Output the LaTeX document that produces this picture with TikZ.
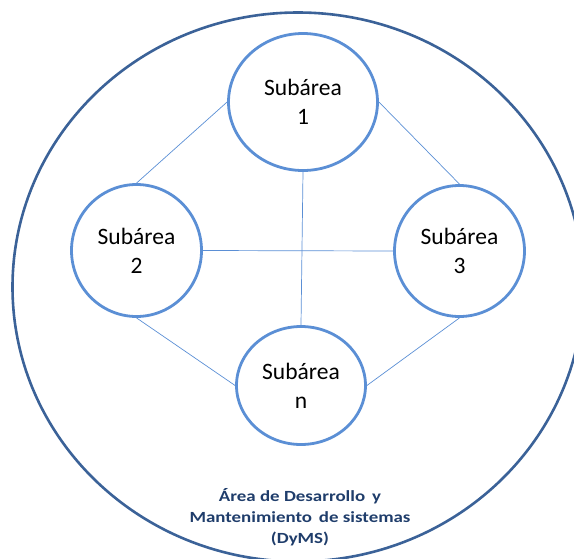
\documentclass[tikz,border=0pt]{standalone}
\usepackage{fontspec}
\setmainfont{Carlito}
\newfontfamily\captionfont[FakeStretch=1.22]{Carlito}
\usetikzlibrary{shapes.geometric}
\definecolor{ringblue}{HTML}{5B8FD5}
\definecolor{linkblue}{HTML}{5B8FD5}
\definecolor{outerblue}{HTML}{3B6298}
\definecolor{titlenavy}{HTML}{1F3D6B}
\begin{document}
\begin{tikzpicture}[x=1pt,y=-1pt,
  subarea/.style={draw=ringblue, line width=2.8pt, ellipse, inner sep=0pt,
    fill=white, align=center,
    font=\fontsize{23.5}{28.7}\selectfont},
  area/.style={draw=outerblue, line width=2.6pt, ellipse, inner sep=0pt},
  link/.style={draw=linkblue, line width=0.7pt},
  areatitle/.style={align=center, text=titlenavy,
    font=\captionfont\bfseries\fontsize{15.5}{21}\selectfont}]
  \useasboundingbox (0,0) rectangle (574,558);
  \clip (0,0) rectangle (574,558);

  % enclosing area
  \node[area, minimum width=571pt, minimum height=549pt] (dyms) at (298,287) {};

  % subarea centres
  \coordinate (c1) at (303,102);
  \coordinate (c2) at (136.5,250.5);
  \coordinate (c3) at (459.5,251);
  \coordinate (cn) at (301,385.5);

  \node[subarea, minimum width=149pt, minimum height=137pt] (s1) at (c1) {Subárea\\1};
  \node[subarea, minimum width=130pt, minimum height=132pt] (s2) at (c2) {Subárea\\2};
  \node[subarea, minimum width=130pt, minimum height=131pt] (s3) at (c3) {Subárea\\3};
  \node[subarea, minimum width=129pt, minimum height=118pt] (sn) at (cn) {Subárea\\n};

  % links between subareas
  \path[link] (s1.west) -- (s2.north);
  \path[link] (s1.east) -- (s3.north);
  \path[link] (s1.south) -- (sn.north);
  \path[link] (s2.east) -- (s3.west);
  \path[link] (s2.south) -- (sn.west);
  \path[link] (s3.south) -- (sn.east);

  % area caption
  \node[areatitle, anchor=base] (title) at (300,543)
    {Área de Desarrollo\, y\\Mantenimiento\, de sistemas\\(DyMS)};
\end{tikzpicture}
\end{document}
